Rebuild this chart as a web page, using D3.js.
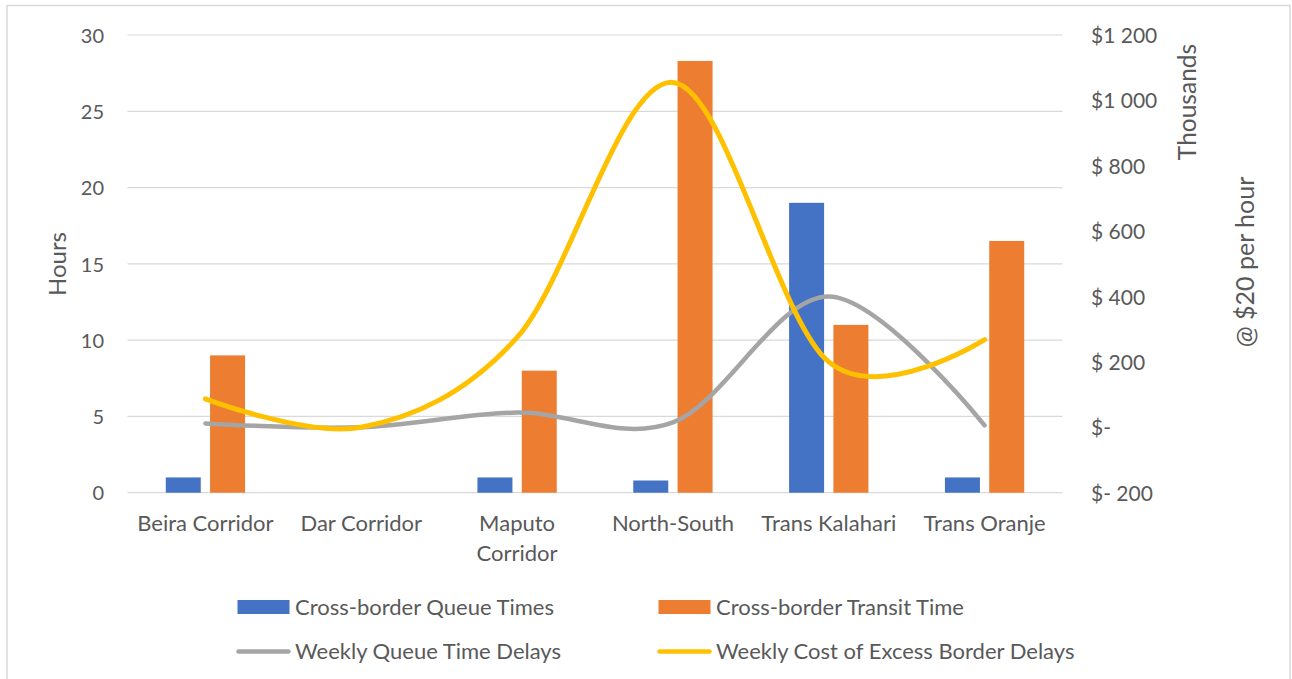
<!DOCTYPE html>
<html>
<head>
<meta charset="utf-8">
<script src="https://cdn.jsdelivr.net/npm/d3@7"></script>
<style>
  html, body { margin: 0; padding: 0; background: #fff; }
  svg { display: block; }
  text { font-family: Lato, "Open Sans", "Noto Sans", sans-serif; fill: #595959; }
</style>
</head>
<body>
<svg id="chart" width="1292" height="679"></svg>
<script>
const categories = ["Beira Corridor", "Dar Corridor", "Maputo Corridor", "North-South", "Trans Kalahari", "Trans Oranje"];
const categoryLines = [["Beira Corridor"], ["Dar Corridor"], ["Maputo", "Corridor"], ["North-South"], ["Trans Kalahari"], ["Trans Oranje"]];
const queueTimes = [1, 0, 1, 0.8, 19, 1];
const transitTimes = [9, 0, 8, 28.3, 11, 16.5];
const weeklyQueueDelays = [12, 0, 45, 15, 400, 6];
const weeklyCost = [87, 0, 275, 1055, 200, 268];
const leftTicks = [0, 5, 10, 15, 20, 25, 30];
const rightTicks = [-200, 0, 200, 400, 600, 800, 1000, 1200];
const rightTickLabels = ["$- 200", "$-", "$ 200", "$ 400", "$ 600", "$ 800", "$1 000", "$1 200"];
const seriesNames = ["Cross-border Queue Times", "Cross-border Transit Time", "Weekly Queue Time Delays", "Weekly Cost of Excess Border Delays"];
const colors = { queue: "#4472C4", transit: "#ED7D31", delays: "#A5A5A5", cost: "#FFC000" };

const svg = d3.select("#chart");

// chart border
svg.append("rect").attr("x", 7).attr("y", 5.5).attr("width", 1283).attr("height", 700)
  .attr("fill", "none").attr("stroke", "#d9d9d9").attr("stroke-width", 1.5);

const plotLeft = 127.5, plotRight = 1062.5, plotTop = 35, plotBottom = 492.7;

const x = d3.scaleBand().domain(categories).range([plotLeft, plotRight]).padding(0);
const yL = d3.scaleLinear().domain([0, 30]).range([plotBottom, plotTop]);
const yR = d3.scaleLinear().domain([-200, 1200]).range([plotBottom, plotTop]);

const bw = x.bandwidth();
const xSub = d3.scaleBand().domain(["queue", "transit"])
  .range([bw / 2 - 39.65, bw / 2 + 39.65]).paddingInner(0.21).paddingOuter(0);

// gridlines
svg.append("g").selectAll("line").data(leftTicks).join("line")
  .attr("x1", plotLeft).attr("x2", plotRight)
  .attr("y1", d => yL(d)).attr("y2", d => yL(d))
  .attr("stroke", "#d9d9d9").attr("stroke-width", 1.2);

// left axis labels
const leftAxis = d3.axisLeft(yL).tickValues(leftTicks).tickSize(0).tickPadding(0);
const gL = svg.append("g").attr("transform", `translate(104,0)`).call(leftAxis);
gL.select(".domain").remove();
gL.selectAll("text").attr("font-size", 20).attr("fill", "#595959")
  .style("font-family", "Lato, 'Open Sans', sans-serif").attr("dy", "0.36em").attr("x", 0);

// right axis labels
const rightAxis = d3.axisRight(yR).tickValues(rightTicks).tickSize(0).tickPadding(0)
  .tickFormat((d, i) => rightTickLabels[i]);
const gR = svg.append("g").attr("transform", `translate(1091,0)`).call(rightAxis);
gR.select(".domain").remove();
gR.selectAll("text").attr("font-size", 21).attr("fill", "#595959")
  .style("font-family", "Lato, 'Open Sans', sans-serif").attr("dy", "0.36em").attr("x", 0)
  .attr("text-anchor", "start");

// bars
const barData = [];
categories.forEach((c, i) => {
  barData.push({ cat: c, key: "queue", value: queueTimes[i] });
  barData.push({ cat: c, key: "transit", value: transitTimes[i] });
});
svg.append("g").selectAll("rect").data(barData.filter(d => d.value > 0)).join("rect")
  .attr("x", d => x(d.cat) + xSub(d.key))
  .attr("width", xSub.bandwidth())
  .attr("y", d => yL(d.value))
  .attr("height", d => yL(0) - yL(d.value))
  .attr("fill", d => colors[d.key]);

// lines
const line = d3.line()
  .x((d, i) => x(categories[i]) + bw / 2)
  .y(d => yR(d))
  .curve(d3.curveCardinal.tension(0));

svg.append("path").datum(weeklyQueueDelays).attr("d", line)
  .attr("fill", "none").attr("stroke", colors.delays).attr("stroke-width", 4.5)
  .attr("stroke-linecap", "round").attr("stroke-linejoin", "round");
svg.append("path").datum(weeklyCost).attr("d", line)
  .attr("fill", "none").attr("stroke", colors.cost).attr("stroke-width", 5)
  .attr("stroke-linecap", "round").attr("stroke-linejoin", "round");

// category labels
const catG = svg.append("g");
categories.forEach((c, i) => {
  const t = catG.append("text").attr("text-anchor", "middle").attr("font-size", 22)
    .attr("x", x(c) + bw / 2).attr("y", 531);
  categoryLines[i].forEach((ln, j) => {
    t.append("tspan").attr("x", x(c) + bw / 2).attr("dy", j === 0 ? 0 : 30).text(ln);
  });
});

// axis titles
svg.append("text").attr("transform", "translate(66,264) rotate(-90)")
  .attr("text-anchor", "middle").attr("font-size", 24).text("Hours");
svg.append("text").attr("transform", "translate(1196,102) rotate(-90)")
  .attr("text-anchor", "middle").attr("font-size", 24.5).text("Thousands");
svg.append("text").attr("transform", "translate(1254,262) rotate(-90)")
  .attr("text-anchor", "middle").attr("font-size", 25).text("@ $20 per hour");

// legend
const legend = svg.append("g");
const legendItems = [
  { name: seriesNames[0], type: "rect", color: colors.queue, x: 237.5, y: 607 },
  { name: seriesNames[1], type: "rect", color: colors.transit, x: 658.5, y: 607 },
  { name: seriesNames[2], type: "line", color: colors.delays, x: 237.5, y: 651.5 },
  { name: seriesNames[3], type: "line", color: colors.cost, x: 658.5, y: 651.5 }
];
legendItems.forEach(it => {
  if (it.type === "rect") {
    legend.append("rect").attr("x", it.x).attr("y", it.y - 7).attr("width", 52).attr("height", 14)
      .attr("fill", it.color);
  } else {
    legend.append("line").attr("x1", it.x + 1).attr("x2", it.x + 51).attr("y1", it.y).attr("y2", it.y)
      .attr("stroke", it.color).attr("stroke-width", 4.5).attr("stroke-linecap", "round");
  }
  legend.append("text").attr("x", it.x + 57.5).attr("y", it.y + 7.5).attr("font-size", 22).text(it.name);
});
</script>
</body>
</html>
